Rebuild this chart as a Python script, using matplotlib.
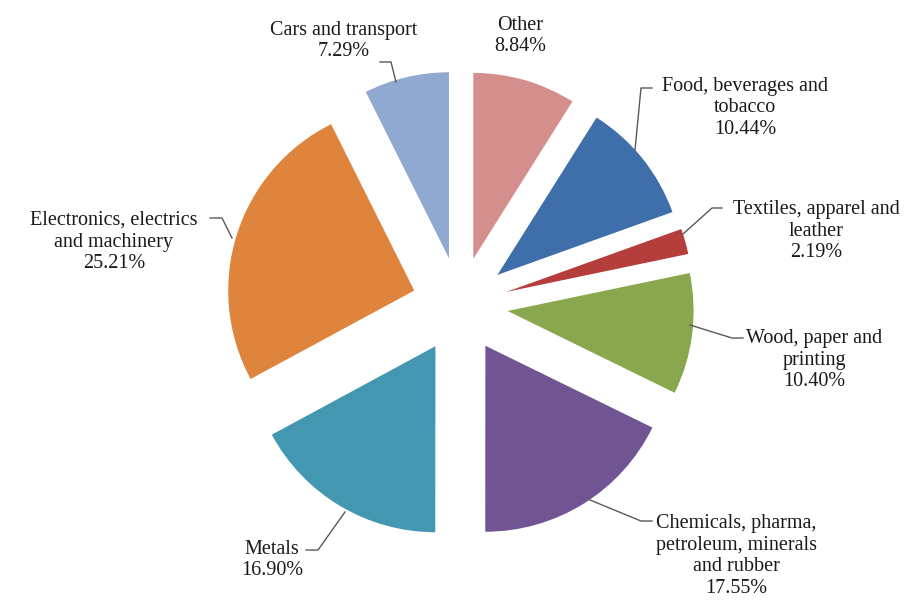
import matplotlib.pyplot as plt

# Datos (en el sentido de las agujas del reloj desde las 12)
sectors = ["Other", "Food, beverages and\ntobacco", "Textiles, apparel and\nleather",
           "Wood, paper and\nprinting", "Chemicals, pharma,\npetroleum, minerals\nand rubber",
           "Metals", "Electronics, electrics\nand machinery", "Cars and transport"]
shares = [8.84, 10.44, 2.19, 10.40, 17.55, 16.90, 25.21, 7.29]
colors = ["#D48F8D", "#3F6FAB", "#B53D3B", "#89A84D", "#715592",
          "#4397B1", "#DE843C", "#8FA9D1"]

plt.rcParams['font.family'] = ['Liberation Serif', 'DejaVu Serif']

fig = plt.figure(figsize=(9.06, 6.02), dpi=100)
ax = fig.add_axes([0, 0, 1, 1])

cx, cy = 460, 602 - 305
radius = 186
wedges, _ = ax.pie(shares, colors=colors, startangle=90, counterclock=False,
                   radius=radius, center=(cx, cy), explode=[48] * len(shares),
                   wedgeprops=dict(linewidth=0), frame=True)
ax.set_xlim(0, 906)
ax.set_ylim(0, 602)
ax.set_aspect('equal')
ax.axis('off')

# posiciones de las etiquetas (pixeles, y desde arriba) y lineas guia
label_pos = [(520, 36), (745, 108), (816, 231), (814, 360), (736, 556),
             (272, 560), (114, 242), (344, 41)]
leaders = [None,
           [(652, 88), (641, 88), (635, 150)],
           [(722, 208), (712, 208), (683, 234)],
           [(743, 338), (732, 338), (690, 325)],
           [(652, 521), (641, 521), (590, 500)],
           [(306, 550), (318, 550), (345, 512)],
           [(210, 218), (222, 218), (232, 238)],
           [(380, 62), (391, 62), (396, 82)]]

for name, val, (lx, ly), lead in zip(sectors, shares, label_pos, leaders):
    ax.text(lx, 602 - ly, f"{name}\n{val:.2f}%", ha='center', va='center',
            fontsize=14.5, color='#1a1a1a', linespacing=1.2)
    if lead:
        ax.plot([p[0] for p in lead], [602 - p[1] for p in lead],
                color='#595959', lw=1)

fig.savefig("out.png", dpi=100)
